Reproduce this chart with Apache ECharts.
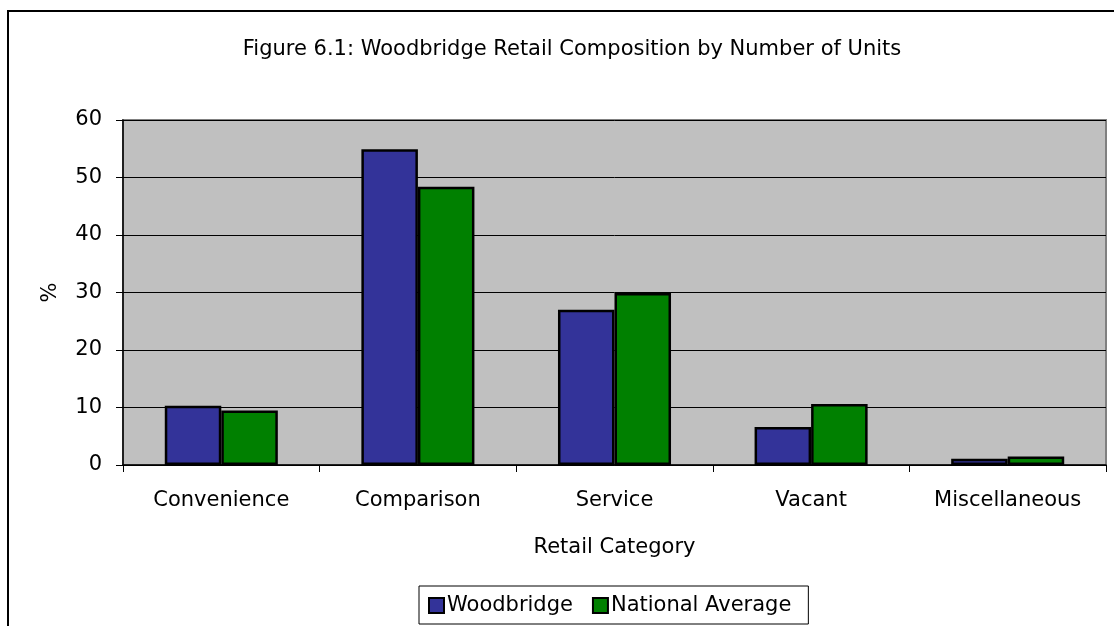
<!DOCTYPE html>
<html>
<head>
<meta charset="utf-8">
<title>Woodbridge Retail Composition</title>
<script src="https://cdn.jsdelivr.net/npm/echarts@6/dist/echarts.min.js"></script>
<style>
  html, body { margin: 0; padding: 0; background: #ffffff; }
  #chart { width: 1114px; height: 626px; }
</style>
</head>
<body>
<div id="chart"></div>
<script>
// Share of retail units by category (%)
const categories = ['Convenience', 'Comparison', 'Service', 'Vacant', 'Miscellaneous'];
const woodbridge = [10.3, 54.9, 27.0, 6.6, 1.1];
const nationalAverage = [9.5, 48.4, 29.9, 10.6, 1.5];
const yTicks = [0, 10, 20, 30, 40, 50, 60];

const FONT = '"DejaVu Sans", sans-serif';
const FS = 21;

const chart = echarts.init(document.getElementById('chart'), null, { renderer: 'canvas' });

chart.setOption({
  backgroundColor: '#ffffff',
  animation: false,
  textStyle: { fontFamily: FONT, color: '#000000' },
  title: {
    text: 'Figure 6.1: Woodbridge Retail Composition by Number of Units',
    left: 567,
    top: 34,
    textAlign: 'center',
    textStyle: { fontFamily: FONT, fontSize: FS, fontWeight: 'normal', color: '#000000' }
  },
  graphic: [{
    type: 'rect',
    shape: { x: 8, y: 11, width: 1130, height: 700 },
    style: { fill: 'none', stroke: '#000000', lineWidth: 2 },
    silent: true,
    z: -1
  }],
  legend: {
    data: ['Woodbridge', 'National Average'],
    left: 419,
    top: 586,
    orient: 'horizontal',
    padding: [9, 17, 8, 9],
    itemGap: 19,
    itemWidth: 15,
    itemHeight: 15,
    borderColor: '#000000',
    borderWidth: 1,
    backgroundColor: '#ffffff',
    icon: 'rect',
    textStyle: { fontFamily: FONT, fontSize: FS, color: '#000000', padding: [0, 0, 0, -2] }
  },
  grid: {
    left: 123,
    right: 8,
    top: 120,
    bottom: 161,
    show: true,
    backgroundColor: '#C0C0C0',
    borderColor: '#808080',
    borderWidth: 2
  },
  xAxis: {
    type: 'category',
    data: categories,
    name: 'Retail Category',
    nameLocation: 'middle',
    nameGap: 72,
    nameTextStyle: { fontFamily: FONT, fontSize: FS, color: '#000000' },
    axisLine: { show: true, lineStyle: { color: '#000000', width: 1.5 } },
    axisTick: { show: true, length: 7, inside: false, alignWithLabel: false, lineStyle: { color: '#000000' } },
    axisLabel: { margin: 25, fontFamily: FONT, fontSize: FS, color: '#000000' },
    splitLine: { show: false }
  },
  yAxis: {
    type: 'value',
    min: yTicks[0],
    max: yTicks[yTicks.length - 1],
    interval: 10,
    name: '%',
    nameLocation: 'middle',
    nameGap: 62,
    nameRotate: 90,
    nameTextStyle: { fontFamily: FONT, fontSize: FS, color: '#000000' },
    axisLine: { show: true, lineStyle: { color: '#000000', width: 1.5 } },
    axisTick: { show: true, length: 7, inside: false, lineStyle: { color: '#000000' } },
    axisLabel: { margin: 21, fontFamily: FONT, fontSize: FS, color: '#000000' },
    splitLine: { show: true, lineStyle: { color: '#000000', width: 1 } }
  },
  series: [
    {
      name: 'Woodbridge',
      type: 'bar',
      data: woodbridge,
      barGap: '0%',
      barCategoryGap: '42.5%',
      itemStyle: { color: '#333399', borderColor: '#000000', borderWidth: 2.5 }
    },
    {
      name: 'National Average',
      type: 'bar',
      data: nationalAverage,
      barGap: '0%',
      barCategoryGap: '42.5%',
      itemStyle: { color: '#008000', borderColor: '#000000', borderWidth: 2.5 }
    }
  ]
});
</script>
</body>
</html>
